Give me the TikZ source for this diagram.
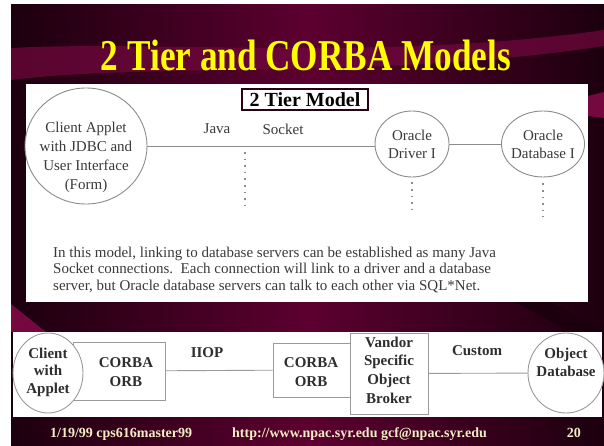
\documentclass[tikz,border=0pt]{standalone}
\usepackage{fontspec}
\setmainfont{Liberation Serif}
\usepackage{tikz}
\usetikzlibrary{shapes.geometric, positioning}

\definecolor{slidedark}{HTML}{1C000E}
\definecolor{slidemaroon}{HTML}{5C0030}
\definecolor{swoosh}{HTML}{74083F}
\definecolor{scangray}{HTML}{8C8C8C}
\definecolor{scantext}{HTML}{3A3A3A}
\definecolor{boxgray}{HTML}{9A9A9A}
\definecolor{orbtext}{HTML}{2E2E2E}
\definecolor{tierborder}{HTML}{2A0014}
\definecolor{footcream}{HTML}{F2EEC4}
\definecolor{titleyellow}{HTML}{FFFF00}

\begin{document}
\begin{tikzpicture}[x=1pt, y=-1pt,
    oval/.style={ellipse, draw=scangray, line width=0.9pt, fill=white, inner sep=0pt},
    scanlbl/.style={text=scantext, font=\fontsize{15}{19}\selectfont, align=center, inner sep=0pt},
    wire/.style={draw=scangray, line width=0.9pt},
    dotcol/.style={draw=scangray, line width=1.6pt, dash pattern=on 1.6pt off 5pt},
    orbbox/.style={rectangle, draw=boxgray, line width=1pt, fill=white, inner sep=0pt},
    orblbl/.style={text=orbtext, font=\bfseries\fontsize{15}{19}\selectfont, align=center, inner sep=0pt},
    footlbl/.style={text=footcream, font=\bfseries\fontsize{14}{16}\selectfont, inner sep=0pt, anchor=base west}
  ]
  \useasboundingbox (0,0) rectangle (604,446);
  % Slide background
  \fill[white] (0,0) rectangle (604,446);
  \fill[left color=slidedark, right color=slidedark, middle color=slidemaroon] (11,5) rectangle (604,446);
  % Swooshes
  \fill[swoosh, opacity=0.7] (11,48) .. controls (160,40) and (380,62) .. (604,30)
    -- (604,46) .. controls (380,80) and (160,62) .. (11,80) -- cycle;
  \fill[swoosh] (11,304) -- (46,332) -- (11,332) -- cycle;
  \fill[slidedark] (515,302) -- (550,302) -- (604,330) -- (604,332) -- (570,332) -- cycle;
  \fill[swoosh] (588,96) -- (604,92) -- (604,118) -- (588,116) -- cycle;

  % Title
  \node[text=titleyellow, font=\bfseries\fontsize{44}{48}\selectfont, anchor=base, inner sep=0pt] (title)
    at (306,71) {\scalebox{0.8}[1]{2 Tier and CORBA Models}};

  % 2 Tier panel
  \fill[white] (26,84) rectangle (588,302);
  \node[oval, minimum width=122, minimum height=116] (applet) at (86,146) {};
  \node[scanlbl] (appletlbl) at (86,157) {Client Applet\\with JDBC and\\User Interface\\(Form)};
  \node[oval, minimum width=74, minimum height=66] (driver) at (412,144) {};
  \node[scanlbl, font=\fontsize{15}{18}\selectfont] (driverlbl) at (412,144) {Oracle\\Driver I};
  \node[oval, minimum width=83, minimum height=66] (dbase) at (543,144) {};
  \node[scanlbl, font=\fontsize{15}{18}\selectfont] (dbaselbl) at (543,144) {Oracle\\Database I};
  \draw[wire] (applet.east) -- (applet.east -| driver.west);
  \draw[wire] (driver) -- (dbase);
  \node[scanlbl] (javalbl) at (217,129) {Java};
  \node[scanlbl] (socklbl) at (283,129) {Socket};
  % Dotted socket columns
  \coordinate (socktop) at (245,152);
  \coordinate (sockend) at (245,205);
  \coordinate (drvend) at (412,215);
  \coordinate (dbend) at (543,217);
  \draw[dotcol] (socktop) -- (sockend);
  \draw[dotcol] ([yshift=-5pt]driver.south) -- (drvend);
  \draw[dotcol] ([yshift=-6pt]dbase.south) -- (dbend);
  \node[draw=tierborder, line width=1.5pt, fill=white, minimum width=126, minimum height=21, inner sep=0pt,
    font=\bfseries\fontsize{20}{22}\selectfont] (tierbox) at (305,99.5) {2 Tier Model};
  \node[text=scantext, font=\fontsize{15}{16.5}\selectfont, align=left, anchor=west, inner sep=0pt] (note)
    at (53,270) {In this model, linking to database servers can be established as many Java\\
    Socket connections.\ \ Each connection will link to a driver and a database\\
    server, but Oracle database servers can talk to each other via SQL*Net.};

  % CORBA panel
  \fill[white] (13,332) rectangle (602,417);
  \node[orbbox, minimum width=92, minimum height=58] (orbL) at (119,371) {};
  \node[oval, draw=boxgray, minimum width=70, minimum height=80] (client) at (48,373) {};
  \node[orblbl, font=\bfseries\fontsize{15}{17.5}\selectfont] (clientlbl) at (48,372) {Client\\with\\Applet};
  \node[orblbl] (orbLlbl) at (126,372) {CORBA\\ORB};
  \node[orbbox, minimum width=77, minimum height=54] (orbR) at (311.5,370) {};
  \node[orblbl] (orbRlbl) at (311,372) {CORBA\\ORB};
  \node[orbbox, minimum width=78, minimum height=81] (broker) at (389,373.5) {};
  \node[orblbl, font=\bfseries\fontsize{15}{18.7}\selectfont] (brokerlbl) at (389,370) {Vandor\\Specific\\Object\\Broker};
  \node[oval, draw=boxgray, minimum width=76, minimum height=80] (objdb) at (566,373) {};
  \node[orblbl, font=\bfseries\fontsize{15}{18}\selectfont] (objdblbl) at (566,362) {Object\\Database};
  \draw[wire, draw=boxgray] (orbL) -- (orbR);
  \draw[wire, draw=boxgray] (broker) -- (objdb);
  \node[orblbl] (iioplbl) at (207,353) {IIOP};
  \node[orblbl] (customlbl) at (477,351) {Custom};

  % Footer
  \node[footlbl] (footdate) at (50,437) {1/19/99 cps616master99};
  \node[footlbl] (footurl) at (232,437) {http://www.npac.syr.edu gcf@npac.syr.edu};
  \node[footlbl, anchor=base east] (footpage) at (581,437) {20};
\end{tikzpicture}
\end{document}
